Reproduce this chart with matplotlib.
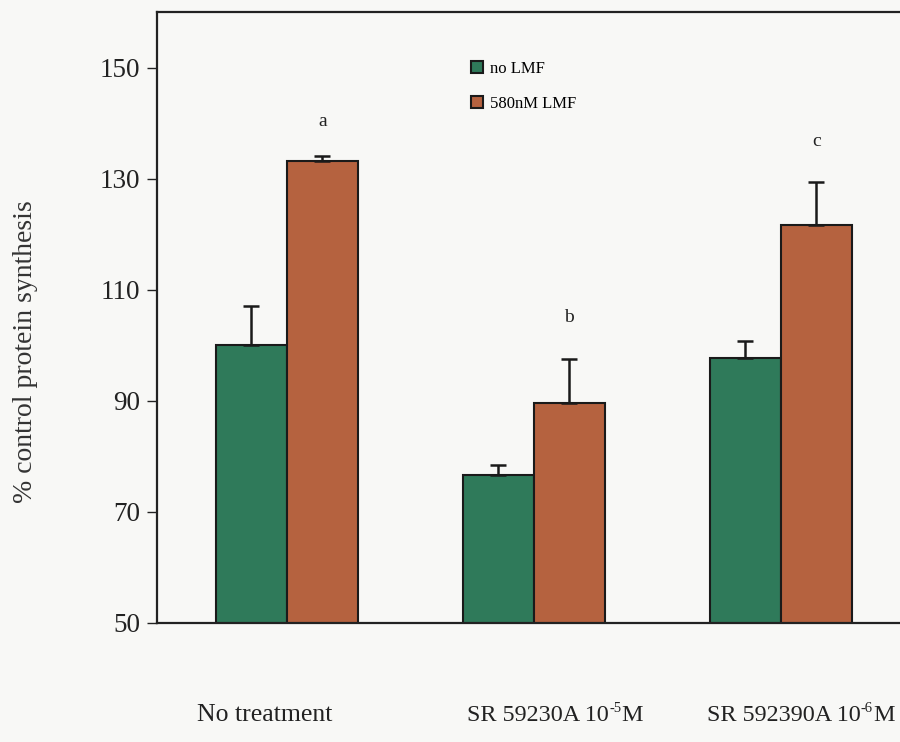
import matplotlib
matplotlib.use("Agg")
import matplotlib.pyplot as plt
import numpy as np

# Data
group_names = ["No treatment", "SR 59230A 10", "SR 592390A 10"]
group_exponents = ["", "-5", "-6"]
group_units = ["", "M", "M"]
series_names = ["no LMF", "580nM LMF"]
no_lmf = [100.0, 76.7, 97.7]
no_lmf_err = [7.0, 1.8, 3.1]
lmf_580 = [133.2, 89.6, 121.6]
lmf_580_err = [0.8, 8.0, 7.8]
sig_letters = ["a", "b", "c"]
letter_y = [140.3, 105.0, 136.7]

plt.rcParams["font.family"] = ["Liberation Serif", "DejaVu Serif"]

bg = "#f8f8f6"
green = "#2f7a5a"
orange = "#b5623f"
ink = "#222222"

fig = plt.figure(figsize=(9.0, 7.42), dpi=100, facecolor=bg)
ax = fig.add_axes([0.1744, 0.1604, 0.8256, 0.8234], facecolor=bg)

x = np.arange(len(group_names))
w = 0.287
err_kw = dict(ecolor="#1a1a1a", elinewidth=1.8, capsize=6, capthick=1.8)
ax.bar(x - w / 2, no_lmf, w, color=green, edgecolor="#1a1a1a",
       linewidth=1.5, label=series_names[0],
       yerr=[np.zeros(3), no_lmf_err], error_kw=err_kw, zorder=2)
ax.bar(x + w / 2, lmf_580, w, color=orange, edgecolor="#1a1a1a",
       linewidth=1.5, label=series_names[1],
       yerr=[np.zeros(3), lmf_580_err], error_kw=err_kw, zorder=2)

for xi, letter, ly in zip(x, sig_letters, letter_y):
    ax.text(xi + w / 2, ly, letter, ha="center", va="center", fontsize=14,
            color=ink)

ax.set_ylim(50, 160)
ax.set_xlim(-0.526, 2.482)
ax.set_yticks([50, 70, 90, 110, 130, 150])
ax.tick_params(axis="y", labelsize=19.5, length=7, width=1.0, colors=ink,
               pad=5)
ax.set_xticks([])

for s in ["left", "top", "bottom"]:
    ax.spines[s].set_linewidth(1.6)
    ax.spines[s].set_color(ink)
ax.spines["right"].set_visible(False)

fig.text(26 / 900, 1 - 352 / 742, "% control protein synthesis",
         rotation=90, ha="center", va="center", fontsize=20, color="#333333")

# Group labels: base text, then a small raised exponent, then the unit
label_offset = [-0.364, -0.271, -0.300]
label_size = [18.5, 17.4, 17.4]
for xi, off, fs, base, sup, tail in zip(x, label_offset, label_size,
                                        group_names, group_exponents,
                                        group_units):
    t = ax.text(xi + off, -0.168, base, transform=ax.get_xaxis_transform(),
                ha="left", va="bottom", fontsize=fs, color=ink)
    if sup:
        s = ax.annotate(sup, xy=(1, 0), xycoords=t, xytext=(0.3, 8.0),
                        textcoords="offset points", ha="left", va="bottom",
                        fontsize=10.5, color=ink, annotation_clip=False)
        ax.annotate(tail, xy=(1, 0), xycoords=(s, t), xytext=(0.3, 0),
                    textcoords="offset points", ha="left", va="bottom",
                    fontsize=fs, color=ink, annotation_clip=False)

ax.legend(loc="upper left", bbox_to_anchor=(471 / 900, 1 - 61 / 742),
          bbox_transform=fig.transFigure, frameon=False, fontsize=12,
          handlelength=0.7, handleheight=0.7, handletextpad=0.45,
          labelspacing=1.15, borderpad=0.0, borderaxespad=0.0)

fig.savefig("out.png", dpi=100, facecolor=bg)
